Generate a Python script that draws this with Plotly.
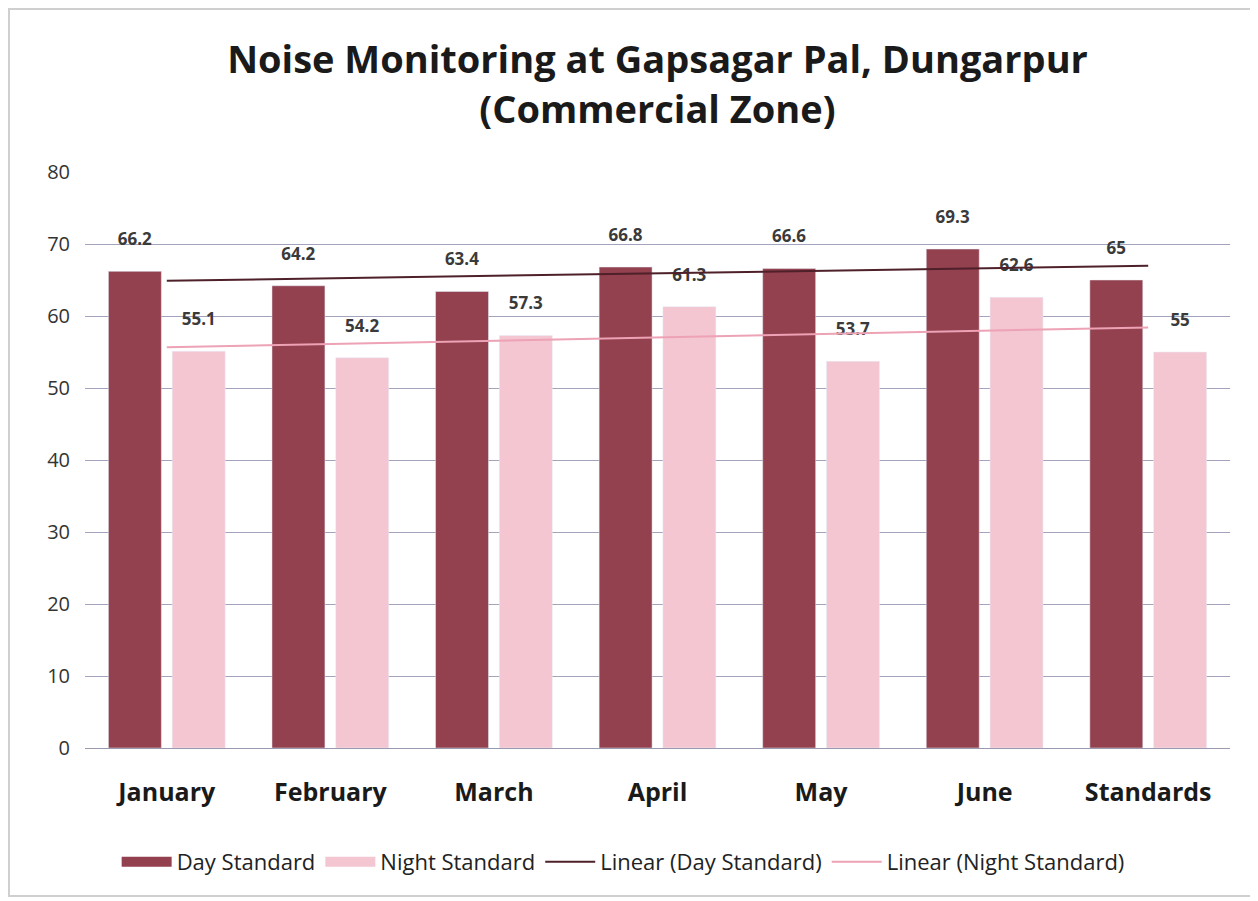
import numpy as np
import plotly.graph_objects as go

categories = ["January", "February", "March", "April", "May", "June", "Standards"]
day_values = [66.2, 64.2, 63.4, 66.8, 66.6, 69.3, 65]
night_values = [55.1, 54.2, 57.3, 61.3, 53.7, 62.6, 55]
y_ticks = [0, 10, 20, 30, 40, 50, 60, 70, 80]

DAY_COLOR = "#93404F"
NIGHT_COLOR = "#F4C6D2"
DAY_TREND = "#4E2029"
NIGHT_TREND = "#EDA2B5"
FONT = "'Open Sans', Lato, sans-serif"

xi = np.arange(1, len(categories) + 1)
day_fit = np.polyval(np.polyfit(xi, day_values, 1), xi)
night_fit = np.polyval(np.polyfit(xi, night_values, 1), xi)

SPACER = "<br><span style='font-size:4px'> </span>"
label_font = dict(size=17, color="#3a3a3a", family=FONT, weight="bold")

fig = go.Figure()
fig.add_trace(go.Bar(
    x=categories, y=day_values, name="Day Standard", showlegend=False,
    marker=dict(color=DAY_COLOR),
    text=[f"{v:g}{SPACER}" for v in day_values], textposition="outside",
    textfont=label_font, cliponaxis=False, hoverinfo="x+y",
))
fig.add_trace(go.Bar(
    x=categories, y=night_values, name="Night Standard", showlegend=False,
    marker=dict(color=NIGHT_COLOR),
    text=[f"{v:g}{SPACER}" for v in night_values], textposition="outside",
    textfont=label_font, cliponaxis=False, hoverinfo="x+y",
))
fig.add_trace(go.Scatter(
    x=categories, y=day_fit, mode="lines", name="Linear (Day Standard)",
    line=dict(color=DAY_TREND, width=2), showlegend=False,
))
fig.add_trace(go.Scatter(
    x=categories, y=night_fit, mode="lines", name="Linear (Night Standard)",
    line=dict(color=NIGHT_TREND, width=2), showlegend=False,
))
# legend entries (Excel-style wide swatches)
for name, color, w in [("Day Standard", DAY_COLOR, 14), ("Night Standard", NIGHT_COLOR, 14),
                       ("Linear (Day Standard)", DAY_TREND, 2), ("Linear (Night Standard)", NIGHT_TREND, 2)]:
    fig.add_trace(go.Scatter(x=[None], y=[None], mode="lines", name=name,
                             line=dict(color=color, width=w)))

fig.update_layout(
    width=1250, height=893,
    paper_bgcolor="white", plot_bgcolor="white",
    margin=dict(l=77, r=28, t=164, b=153),
    barmode="group", bargap=0.22, bargroupgap=0.17,
    title=dict(
        text="Noise Monitoring at Gapsagar Pal, Dungarpur<br>(Commercial Zone)",
        x=0.5, xref="paper", xanchor="center", y=0.927, yanchor="top",
        font=dict(size=38, family=FONT, color="#1a1a1a", weight="bold"),
    ),
    xaxis=dict(
        showgrid=False, showline=True, linecolor="#9a9aae", linewidth=1,
        tickfont=dict(size=25, family=FONT, color="#1a1a1a", weight="bold"),
        ticks="", ticklabelstandoff=22,
    ),
    yaxis=dict(
        range=[0, 80], tickvals=y_ticks, showgrid=True, gridcolor="#A3A3BD",
        gridwidth=1, zeroline=False, showline=False,
        tickfont=dict(size=20, family=FONT, color="#333333"),
        ticklabelstandoff=14,
    ),
    legend=dict(
        orientation="h", x=0.47, xanchor="center", y=-0.198, yanchor="middle",
        font=dict(size=22, family=FONT, color="#222222"),
        traceorder="normal", itemwidth=50,
    ),
    shapes=[dict(type="rect", xref="paper", yref="paper",
                 x0=-0.0664, x1=1.0218, y0=-0.257, y1=1.283,
                 line=dict(color="#cfcfcf", width=2))],
)

fig.write_html("out.html")
